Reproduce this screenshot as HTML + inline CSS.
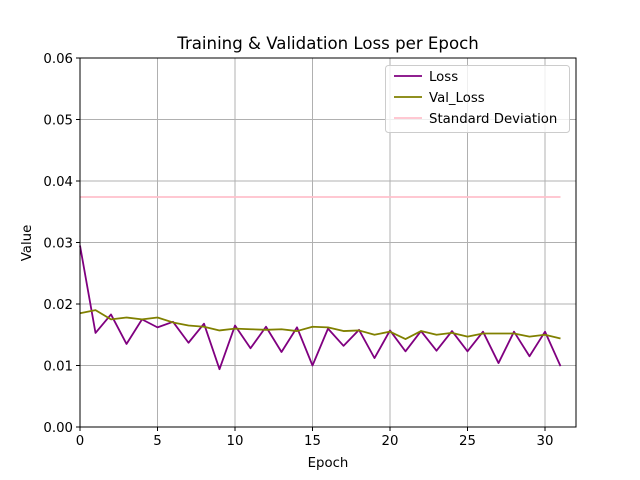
<!DOCTYPE html>
<html><head><meta charset="utf-8"><style>
body{margin:0;background:#fff;font-family:"DejaVu Sans","Liberation Sans",sans-serif;}
svg{display:block;font-family:"DejaVu Sans","Liberation Sans",sans-serif;}
</style></head><body>
<svg id="chart" width="640" height="480"></svg>
<script>
const epochs = Array.from({length:32},(_, i)=>i);
const loss = [0.0295,0.0153,0.0183,0.0135,0.0175,0.0162,0.0171,0.0137,0.0168,0.0094,0.0165,0.0128,0.0163,0.0122,0.0162,0.0100,0.0160,0.0132,0.0158,0.0112,0.0157,0.0123,0.0156,0.0124,0.0156,0.0123,0.0155,0.0104,0.0155,0.0115,0.0155,0.0099];
const valLoss = [0.0185,0.0190,0.0175,0.0178,0.0175,0.0178,0.0170,0.0165,0.0163,0.0157,0.0160,0.0159,0.0158,0.0159,0.0156,0.0163,0.0162,0.0156,0.0157,0.0150,0.0155,0.0143,0.0156,0.0150,0.0153,0.0147,0.0152,0.0152,0.0152,0.0147,0.0150,0.0144];
const stdDev = 0.0374;
const xTicks = [0,5,10,15,20,25,30];
const yTicks = [0,0.01,0.02,0.03,0.04,0.05,0.06];
const yTickLabels = ["0.00","0.01","0.02","0.03","0.04","0.05","0.06"];

const L=80,R=576,T=58,B=427;
const xs = v => L + (v-0)/(32-0)*(R-L);
const ys = v => B - (v-0)/(0.06-0)*(B-T);
const NS="http://www.w3.org/2000/svg";
const svg=document.getElementById('chart');
function mk(tag,attrs,parent){const e=document.createElementNS(NS,tag);for(const k in attrs)e.setAttribute(k,attrs[k]);(parent||svg).appendChild(e);return e;}

const grid=mk('g',{});


xTicks.forEach(t=>{mk('line',{x1:xs(t),x2:xs(t),y1:T,y2:B,stroke:'#b0b0b0','stroke-width':1},grid);});
yTicks.forEach(t=>{mk('line',{x1:L,x2:R,y1:ys(t),y2:ys(t),stroke:'#b0b0b0','stroke-width':1},grid);});

function series(vals,color,name){
  const p=mk('polyline',{points:vals.map((v,i)=>xs(epochs[i])+','+ys(v)).join(' '),fill:'none',stroke:color,'stroke-width':1.8,'stroke-linejoin':'round'});
  
  
}
series(loss,'#800080','loss-line');
series(valLoss,'#808000','val-loss-line');
const sd=mk('line',{x1:xs(0),x2:xs(31),y1:ys(stdDev),y2:ys(stdDev),stroke:'#ffc0cb','stroke-width':1.8});



mk('rect',{x:L,y:T,width:R-L,height:B-T,fill:'none',stroke:'#000','stroke-width':1});

xTicks.forEach(t=>{
  mk('line',{x1:xs(t),x2:xs(t),y1:B,y2:B+4,stroke:'#000'});
  const tx=mk('text',{x:xs(t),y:B+18,'text-anchor':'middle','font-size':13.3,fill:'#000'});
  tx.textContent=t;
  
  
});
yTicks.forEach((t,i)=>{
  mk('line',{x1:L-4,x2:L,y1:ys(t),y2:ys(t),stroke:'#000'});
  const tx=mk('text',{x:L-7,y:ys(t)+4.8,'text-anchor':'end','font-size':13.3,fill:'#000'});
  tx.textContent=yTickLabels[i];
  
  
});
</script>
<svg width="640" height="480" style="position:absolute;left:0;top:0">
<text x="328" y="49" text-anchor="middle" font-size="16.6">Training &amp; Validation Loss per Epoch</text>
<text x="328" y="467" text-anchor="middle" font-size="13.3">Epoch</text>
<text x="31" y="243" text-anchor="middle" font-size="13.3" transform="rotate(-90 31 243)">Value</text>
<g>
<rect x="385.5" y="65.5" width="184" height="67" rx="3" fill="#fff" fill-opacity="0.8" stroke="#ccc"/>
<g><line x1="394" x2="422" y1="76" y2="76" stroke="#800080" stroke-width="1.8"/><text x="429" y="81" font-size="13.3">Loss</text></g>
<g><line x1="394" x2="422" y1="97" y2="97" stroke="#808000" stroke-width="1.8"/><text x="429" y="102" font-size="13.3">Val_Loss</text></g>
<g><line x1="394" x2="422" y1="118" y2="118" stroke="#ffc0cb" stroke-width="1.8"/><text x="429" y="123" font-size="13.3">Standard Deviation</text></g>
</g>
</svg>
</body></html>
